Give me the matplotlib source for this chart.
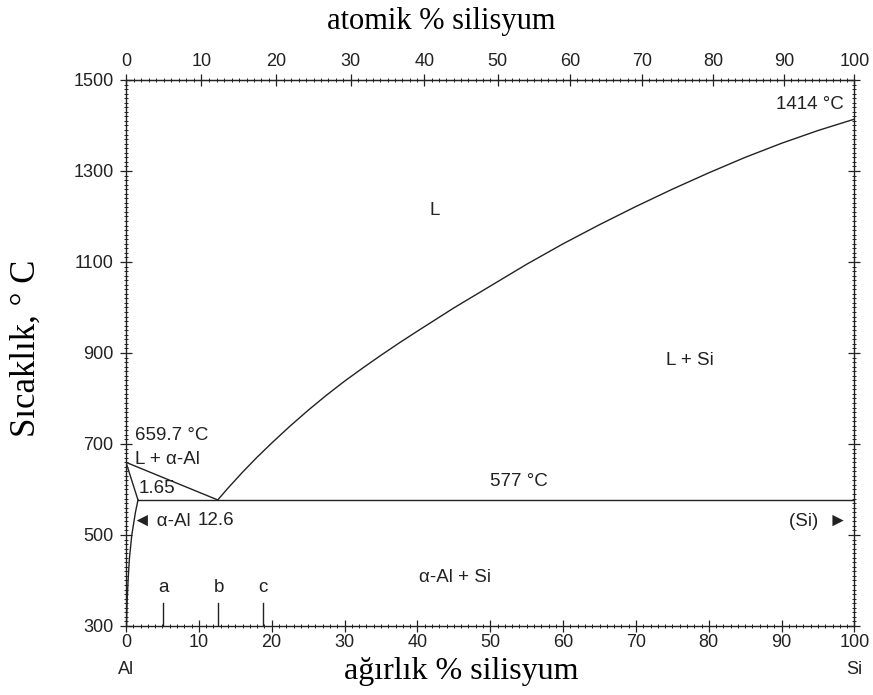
import numpy as np
from matplotlib import pyplot as plt
from matplotlib.ticker import MultipleLocator

# liquidus, Si side (wt % Si, degC)
liq_si_wt = [12.6, 14, 16, 18, 20, 22.5, 25, 27.5, 30, 32.5, 35, 37.5, 40, 45, 50,
             55, 60, 65, 70, 75, 80, 85, 90, 95, 100]
liq_si_T = [577, 603, 638, 671, 702, 739, 774, 807, 838, 867, 895, 922, 948, 999, 1047,
            1095, 1140, 1182, 1222, 1260, 1296, 1330, 1361, 1389, 1414]

# liquidus, Al side
liq_al_wt = [0, 12.6]
liq_al_T = [659.7, 577]

# solidus, Al side
sol_wt = [0, 1.65]
sol_T = [659.7, 577]

# solvus of (Al)
solvus_wt = [1.65, 1.3, 0.8, 0.48, 0.29, 0.15, 0.07]
solvus_T = [577, 550, 500, 450, 400, 350, 300]

# eutectic
eut_wt = [1.65, 100]
eut_T = [577, 577]

# alloy markers
alloy_names = ['a', 'b', 'c']
alloy_wt = [5.1, 12.7, 18.8]

bottom_ticks = list(range(0, 101, 10))
top_ticks = list(range(0, 101, 10))

M_SI = 28.086
M_AL = 26.982


def at_to_wt(a):
    a = np.asarray(a, dtype=float)
    return 100 * a * M_SI / (a * M_SI + (100 - a) * M_AL)


def wt_to_at(w):
    w = np.asarray(w, dtype=float)
    return 100 * (w / M_SI) / (w / M_SI + (100 - w) / M_AL)


sans = 'Liberation Sans'
serif = 'Liberation Serif'
lc = '#222222'
lw = 1.0
fs = 13
tfs = 13.5

fig = plt.figure(figsize=(8.73, 6.95), dpi=100)
ax = fig.add_axes([0.1443, 0.0993, 0.8345, 0.7856])

ax.plot(liq_si_wt, liq_si_T, color=lc, lw=lw)
ax.plot(liq_al_wt, liq_al_T, color=lc, lw=lw)
ax.plot(sol_wt, sol_T, color=lc, lw=lw)
ax.plot(solvus_wt, solvus_T, color=lc, lw=lw)
ax.plot(eut_wt, eut_T, color=lc, lw=lw)
for name, w in zip(alloy_names, alloy_wt):
    ax.plot([w, w], [300, 350], color=lc, lw=lw)
    ax.text(w, 385, name, family=sans, fontsize=tfs, ha='center', va='center', color=lc)

ax.set_xlim(0, 100)
ax.set_ylim(300, 1500)
ax.set_xticks(bottom_ticks)
ax.set_yticks(range(300, 1501, 200))
ax.xaxis.set_minor_locator(MultipleLocator(1))
ax.yaxis.set_minor_locator(MultipleLocator(10))
ax.tick_params(which='major', direction='inout', length=8, width=0.9, labelsize=fs,
               right=True, colors=lc, pad=5)
ax.tick_params(axis='x', which='major', pad=2)
ax.tick_params(which='minor', direction='inout', length=3, width=0.7, right=True, colors=lc)
for lab in ax.get_xticklabels() + ax.get_yticklabels():
    lab.set_family(sans)
for s in ax.spines.values():
    s.set_color(lc)
    s.set_linewidth(1.0)

top = ax.secondary_xaxis('top', functions=(wt_to_at, at_to_wt))
top.set_xticks(top_ticks)
top.xaxis.set_minor_locator(MultipleLocator(1))
top.tick_params(which='major', direction='inout', length=8, width=0.9, labelsize=fs,
                colors=lc, pad=3)
top.tick_params(which='minor', direction='inout', length=3, width=0.7, colors=lc)
for lab in top.get_xticklabels():
    lab.set_family(sans)

fig.text(441 / 873, 1 - 22 / 695, 'atomik % silisyum', family=serif, fontsize=22,
         ha='center', va='center')
fig.text(461 / 873, 1 - 672 / 695, 'ağırlık % silisyum', family=serif, fontsize=23,
         ha='center', va='center')
fig.text(26 / 873, 1 - 348 / 695, 'Sıcaklık, ° C', family=serif, fontsize=25,
         ha='center', va='center', rotation=90)

ax.text(0, 205, 'Al', family=sans, fontsize=fs, ha='center', va='center', color=lc,
        clip_on=False)
ax.text(100, 205, 'Si', family=sans, fontsize=fs, ha='center', va='center', color=lc,
        clip_on=False)

ax.text(98.5, 1447, '1414 °C', family=sans, fontsize=tfs, ha='right', va='center', color=lc)
ax.text(42.4, 1214, 'L', family=sans, fontsize=tfs, ha='center', va='center', color=lc)
ax.text(77.4, 884, 'L + Si', family=sans, fontsize=tfs, ha='center', va='center', color=lc)
ax.text(54, 618, '577 °C', family=sans, fontsize=tfs, ha='center', va='center', color=lc)
ax.text(45.2, 407, 'α-Al + Si', family=sans, fontsize=tfs, ha='center', va='center', color=lc)
ax.text(99, 530, '(Si)  ►', family=sans, fontsize=tfs, ha='right', va='center', color=lc)
ax.text(1.3, 719, '659.7 °C', family=sans, fontsize=tfs, ha='left', va='center', color=lc)
ax.text(1.3, 666, 'L + α-Al', family=sans, fontsize=tfs, ha='left', va='center', color=lc)
ax.text(1.8, 603, '1.65', family=sans, fontsize=tfs, ha='left', va='center', color=lc)
ax.text(1.0, 530, '◄ α-Al', family=sans, fontsize=tfs, ha='left', va='center', color=lc)
ax.text(9.8, 532, '12.6', family=sans, fontsize=tfs, ha='left', va='center', color=lc)

fig.savefig('out.png', dpi=100)
